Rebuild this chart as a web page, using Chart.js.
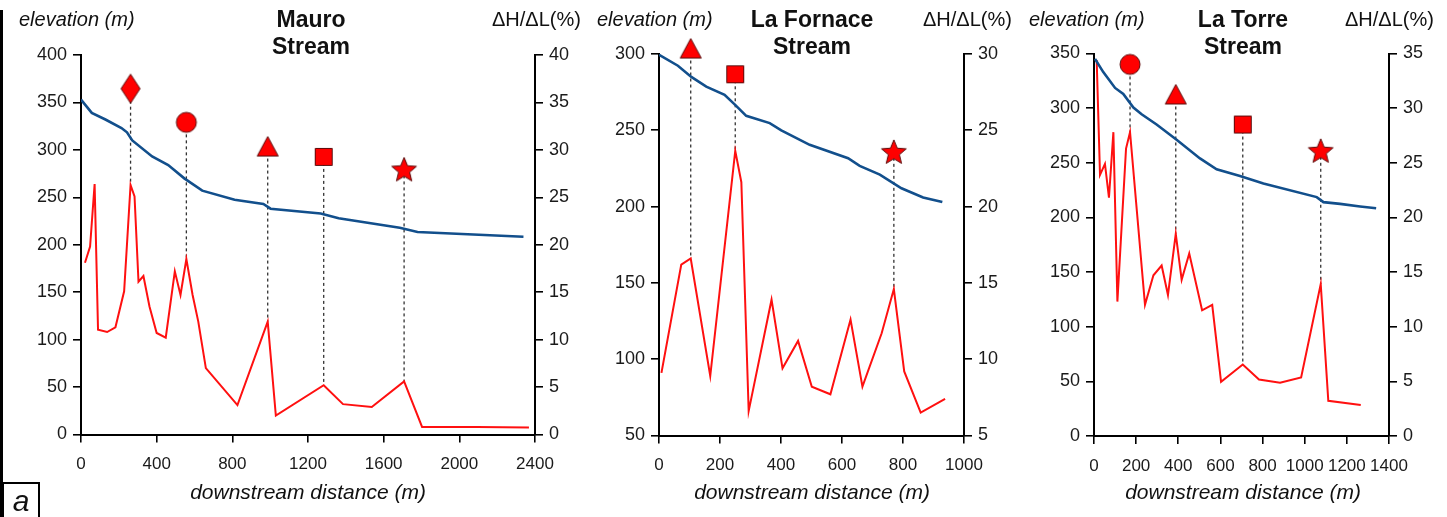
<!DOCTYPE html>
<html><head><meta charset="utf-8">
<script src="https://cdn.jsdelivr.net/npm/chart.js@4.4.1/dist/chart.umd.min.js"></script>
<style>
body{margin:0;background:#fff;width:1447px;height:517px;overflow:hidden;position:relative;font-family:'Liberation Sans',Arial,sans-serif;color:#111;}
canvas{position:absolute;top:0;}
.t{position:absolute;white-space:nowrap;color:#111;}
.ttl{position:absolute;font-weight:bold;font-size:23px;line-height:27px;text-align:center;width:200px;color:#111;}
.el{font-style:italic;font-size:20px;line-height:20px;top:9px;}
.dh{font-size:20px;line-height:20px;top:9px;}
.dd{font-style:italic;font-size:21px;line-height:21px;top:481px;width:300px;text-align:center;}
</style></head><body>
<canvas id="c1" width="590" height="517" style="left:0px"></canvas>
<canvas id="c2" width="425" height="517" style="left:590px"></canvas>
<canvas id="c3" width="432" height="517" style="left:1015px"></canvas>

<div style="position:absolute;left:0;top:10px;width:3px;height:507px;background:#000"></div>
<div style="position:absolute;left:2px;top:482px;width:34px;height:33px;border:2px solid #000;border-bottom:none;font-style:italic;font-size:30px;line-height:33px;text-align:center;">a</div>

<div class="ttl" style="left:211px;top:6px">Mauro<br>Stream</div>
<div class="ttl" style="left:712px;top:6px">La Fornace<br>Stream</div>
<div class="ttl" style="left:1143px;top:6px">La Torre<br>Stream</div>

<div class="t el" style="left:19px">elevation (m)</div>
<div class="t el" style="left:597px">elevation (m)</div>
<div class="t el" style="left:1029px">elevation (m)</div>

<div class="t dh" style="left:492px">ΔH/ΔL(%)</div>
<div class="t dh" style="left:923px">ΔH/ΔL(%)</div>
<div class="t dh" style="left:1345px">ΔH/ΔL(%)</div>

<div class="t dd" style="left:158px">downstream distance (m)</div>
<div class="t dd" style="left:662px">downstream distance (m)</div>
<div class="t dd" style="left:1093px">downstream distance (m)</div>

<script>
// ---------- DATA ----------
// Mauro Stream
const mauroElevDist = [0, 57, 129, 214, 243, 271, 376, 461, 546, 641, 812, 964, 1002, 1267, 1362, 1685, 1779, 2339];
const mauroElev     = [353, 339, 332, 323, 318.5, 310, 293, 284, 270, 257, 247.5, 243, 238, 233, 228, 218, 213.5, 208.5];
const mauroSlopeDist = [21, 48, 72, 90, 138, 182, 228, 262, 283, 304, 330, 362, 400, 448, 496, 526, 557, 590, 620, 660, 827, 987, 1030, 1283, 1385, 1537, 1708, 1803, 2093, 2368];
const mauroSlope     = [18.1, 19.8, 26.4, 11.05, 10.8, 11.3, 15.1, 26.3, 25.1, 16.1, 16.7, 13.5, 10.7, 10.2, 17.2, 14.7, 18.5, 14.7, 11.9, 7.0, 3.1, 11.9, 2.0, 5.2, 3.2, 2.9, 5.6, 0.8, 0.8, 0.75];
const mauroMarkDist  = [262, 557, 987, 1283, 1708];
const mauroMarkElev  = [364.5, 329, 303.5, 292.6, 279.4];
const mauroMarkShape = ['diamond', 'circle', 'triangle', 'square', 'star'];
const mauroXTicks = [0, 2400, 400];      // min, max, step
const mauroYTicks = [0, 400, 50];
const mauroY1Ticks = [0, 40, 5];

// La Fornace Stream
const fornElevDist = [0, 62, 106, 155, 215, 248, 286, 363, 401, 494, 620, 658, 724, 795, 866, 929];
const fornElev     = [299.5, 292.3, 285, 278.6, 273.3, 267, 259.5, 254.7, 250, 240.5, 231.7, 226.7, 221, 212, 206, 203];
const fornSlopeDist = [8, 73, 104, 168, 250, 270, 294, 369, 405, 456, 501, 562, 628, 667, 730, 770, 804, 858, 938];
const fornSlope     = [9.1, 16.2, 16.6, 8.9, 23.65, 21.6, 6.6, 13.9, 9.4, 11.2, 8.2, 7.7, 12.6, 8.2, 11.7, 14.6, 9.2, 6.5, 7.4];
const fornMarkDist  = [104, 250, 770];
const fornMarkElev  = [303.6, 286.7, 235.9];
const fornMarkShape = ['triangle', 'square', 'star'];
const fornXTicks = [0, 1000, 200];
const fornYTicks = [50, 300, 50];
const fornY1Ticks = [5, 30, 5];

// La Torre Stream
const torreElevDist = [5, 44, 100, 139, 187, 226, 297, 392, 503, 582, 693, 804, 1057, 1089, 1168, 1263, 1339];
const torreElev     = [345, 333, 318.5, 313, 300.5, 294.4, 285, 271, 254, 244, 238, 231, 218.6, 214, 212.4, 210, 208.4];
const torreSlopeDist = [12.7, 28.5, 52, 71, 92, 111, 152, 171, 242, 282, 321, 351, 388, 416, 452, 513, 561, 603, 706, 783, 883, 983, 1076, 1112, 1266];
const torreSlope     = [34.4, 23.9, 24.9, 21.8, 27.8, 12.3, 26.3, 27.8, 12.0, 14.7, 15.6, 12.9, 18.5, 14.3, 16.7, 11.5, 12.0, 4.96, 6.54, 5.17, 4.87, 5.35, 13.9, 3.22, 2.83];
const torreMarkDist  = [171, 388, 706, 1076];
const torreMarkElev  = [340, 312.5, 285, 261];
const torreMarkShape = ['circle', 'triangle', 'square', 'star'];
const torreXTicks = [0, 1400, 200];
const torreYTicks = [0, 350, 50];
const torreY1Ticks = [0, 35, 5];

// ---------- STYLE ----------
const BLUE = '#124f8c', RED = '#ff1010', MFILL = '#ff0000', MEDGE = '#5a0d0d';
const TICKFONT = {family:"'Liberation Sans', Arial, sans-serif", size:18};
const XTICKFONT = {family:"'Liberation Sans', Arial, sans-serif", size:17};

function shapeImage(name){
  const c = document.createElement('canvas');
  let w = 24, h = 24;
  if (name === 'diamond'){ w = 22; h = 32; }
  if (name === 'star'){ w = 28; h = 28; }
  c.width = w; c.height = h;
  const g = c.getContext('2d');
  g.fillStyle = MFILL; g.strokeStyle = MEDGE; g.lineWidth = 1; g.lineJoin = 'miter';
  g.beginPath();
  if (name === 'circle'){ g.arc(w/2, h/2, 10, 0, Math.PI*2); }
  else if (name === 'square'){ g.rect(3.5, 3.5, 17, 17); }
  else if (name === 'triangle'){ g.moveTo(w/2, 2); g.lineTo(w-1.5, 21.5); g.lineTo(1.5, 21.5); g.closePath(); }
  else if (name === 'diamond'){ g.moveTo(w/2, 1.5); g.lineTo(w-1.5, h/2); g.lineTo(w/2, h-1.5); g.lineTo(1.5, h/2); g.closePath(); }
  else if (name === 'star'){
    const cx = w/2, cy = h/2 + 1, R = 13, r = 5.8;
    for (let i = 0; i < 10; i++){
      const a = -Math.PI/2 + i*Math.PI/5, rr = i%2 ? r : R;
      const px = cx + rr*Math.cos(a), py = cy + rr*Math.sin(a);
      i ? g.lineTo(px, py) : g.moveTo(px, py);
    }
    g.closePath();
  }
  g.fill(); g.stroke();
  return c;
}

function valueAt(xs, ys, x){
  for (let i = 0; i < xs.length - 1; i++){
    if (x >= xs[i] && x <= xs[i+1]){
      const t = (x - xs[i]) / (xs[i+1] - xs[i]);
      return ys[i] + t*(ys[i+1] - ys[i]);
    }
  }
  return ys[ys.length-1];
}

function pts(xs, ys){ return xs.map((x,i)=>({x:x, y:ys[i]})); }
const plainNum = (v) => String(v);

function makePanel(id, geom, d){
  const datasets = [];
  datasets.push({
    type:'scatter', label:'markers', data: pts(d.markDist, d.markElev), yAxisID:'y',
    pointStyle: d.markShape.map(shapeImage), pointRadius: 10, clip:false, order:0
  });
  datasets.push({type:'line', label:'elevation', data: pts(d.elevDist, d.elev), yAxisID:'y',
    borderColor:BLUE, borderWidth:2.6, pointRadius:0, tension:0, order:1});
  datasets.push({type:'line', label:'slope', data: pts(d.slopeDist, d.slope), yAxisID:'y1',
    borderColor:RED, borderWidth:2, pointRadius:0, tension:0, order:1});
  const k = (d.yT[1]-d.yT[0])/(d.y1T[1]-d.y1T[0]);
  d.markDist.forEach((mx, i) => {
    const redLeft = d.yT[0] + (valueAt(d.slopeDist, d.slope, mx) - d.y1T[0]) * k;
    datasets.push({type:'line', label:'guide'+i, data:[{x:mx, y:d.markElev[i]}, {x:mx, y:redLeft}], yAxisID:'y',
      borderColor:'#333', borderWidth:1.3, borderDash:[3,3], pointRadius:0, order:2});
  });
  const tickGrid = {drawOnChartArea:false, drawTicks:true, tickLength:8, color:'#000', lineWidth:1.6};
  const bord = {color:'#000', width:2};
  new Chart(document.getElementById(id), {
    type:'scatter',
    data:{datasets},
    options:{
      responsive:false, animation:false, events:[],
      layout:{padding:{top:geom.top, left:0, right:0, bottom:0}, autoPadding:false},
      plugins:{legend:{display:false}, tooltip:{enabled:false}, title:{display:false}},
      scales:{
        x:{type:'linear', min:d.xT[0], max:d.xT[1],
          ticks:{stepSize:d.xT[2], font:XTICKFONT, color:'#1a1a1a', padding:12, autoSkip:false, maxRotation:0, callback:plainNum},
          grid:tickGrid, border:bord,
          afterFit:(s)=>{ s.height = 517 - geom.bottom; }},
        y:{type:'linear', position:'left', min:d.yT[0], max:d.yT[1],
          ticks:{stepSize:d.yT[2], font:TICKFONT, color:'#1a1a1a', padding:6, autoSkip:false, callback:plainNum},
          grid:tickGrid, border:bord,
          afterFit:(s)=>{ s.width = geom.plotL - geom.left; }},
        y1:{type:'linear', position:'right', min:d.y1T[0], max:d.y1T[1],
          ticks:{stepSize:d.y1T[2], font:TICKFONT, color:'#1a1a1a', padding:6, autoSkip:false, callback:plainNum},
          grid:tickGrid, border:bord,
          afterFit:(s)=>{ s.width = geom.left + geom.width - geom.plotR; }}
      }
    }
  });
}

makePanel('c1', {left:0, width:590, plotL:81, plotR:535, top:55, bottom:434.5},
  {elevDist:mauroElevDist, elev:mauroElev, slopeDist:mauroSlopeDist, slope:mauroSlope,
   markDist:mauroMarkDist, markElev:mauroMarkElev, markShape:mauroMarkShape,
   xT:mauroXTicks, yT:mauroYTicks, y1T:mauroY1Ticks});
makePanel('c2', {left:590, width:425, plotL:659, plotR:964, top:54, bottom:435.5},
  {elevDist:fornElevDist, elev:fornElev, slopeDist:fornSlopeDist, slope:fornSlope,
   markDist:fornMarkDist, markElev:fornMarkElev, markShape:fornMarkShape,
   xT:fornXTicks, yT:fornYTicks, y1T:fornY1Ticks});
makePanel('c3', {left:1015, width:432, plotL:1094, plotR:1389, top:53.5, bottom:436},
  {elevDist:torreElevDist, elev:torreElev, slopeDist:torreSlopeDist, slope:torreSlope,
   markDist:torreMarkDist, markElev:torreMarkElev, markShape:torreMarkShape,
   xT:torreXTicks, yT:torreYTicks, y1T:torreY1Ticks});
</script>
</body></html>
